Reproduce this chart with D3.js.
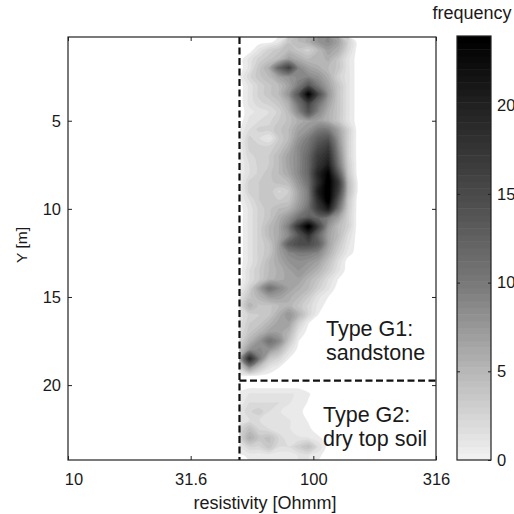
<!DOCTYPE html>
<html><head><meta charset="utf-8">
<script src="https://cdn.jsdelivr.net/npm/d3@7"></script>
<style>
body{margin:0;background:#fff}
text{font-family:"Liberation Sans",Arial,Helvetica,sans-serif;fill:#1a1a1a}
</style>
</head><body>
<svg id="chart" width="514" height="514"></svg>
<script>
// ---- data ----
// resistivity bin centres [Ohmm] (log-spaced)
const resistivityBins = [50.1, 55.0, 60.3, 66.1, 72.4, 79.4, 87.1, 95.5, 104.7, 114.8, 125.9, 138.0, 151.4, 166.0];
// depth bin centres Y [m]
const depthBins = [0.5,1,1.5,2,2.5,3,3.5,4,4.5,5,5.5,6,6.5,7,7.5,8,8.5,9,9.5,10,10.5,11,11.5,12,
                   12.5,13,13.5,14,14.5,15,15.5,16,16.5,17,17.5,18,18.5,19,19.5,20,20.5,21,21.5,22,22.5,23,23.5,24];
// frequency per (depth row, resistivity column)
const frequency = [
 [0,0,0,0,1,4,5,6,8,9,7,3,0,0],
 [0,0,1.5,3,4,5,4,3,5,7,6,2.5,0,0],
 [0,1.5,3,4,5,7,6,5,5,6,4,1.5,0,0],
 [0,1.5,4,6,12,16,9,7,6,5,4,1.5,0,0],
 [0.5,2.5,4,5,7,8,9,9,8,6,3,1.5,0,0],
 [0,1.5,3,4,5,7,10,14,10,7,4,1.5,0,0],
 [0,1.5,3,4,5,8,14,24,15,8,4,1.5,0,0],
 [0,1.5,2.5,3,4,6,11,16,11,7,4,1.5,0,0],
 [0,1,1.5,2,3,5,9,14,9,6,4,1.5,0,0],
 [0,1.5,2,2.5,3.5,4.5,6,7,7,6,4,1.5,0,0],
 [0.5,2,3,3,4,5,7,8,10,10,7,3,0,0],
 [0.5,3,2,1,3.5,5,8,10,13,14,8,3,0,0],
 [0.5,3,3,3,4,6,9,11,15,17,9,3,0,0],
 [0.5,2.5,3,3.5,5,7,9,12,17,19,10,3,0,0],
 [0.5,2,3,3.5,5,7,9,12,18,21,11,3.5,0,0],
 [0.5,2,3,4,5,6.5,9,12,20,24,14,4,0,0],
 [0.5,3,3.5,4,4.5,5,8,11,19,25,18,5,0.5,0],
 [0.5,3,3.5,4,2.5,3.5,7,10,21,25,17,5,0.5,0],
 [0.5,2,3.5,4,3.5,4,7,10,19,25,14,4,0,0],
 [0,1.5,3,4,5,5.5,8,11,17,21,11,3.5,0,0],
 [0,1.5,3,4,6,8,11,13,12,10,7,3,0,0],
 [0,1.5,3,5,6.5,10,18,25,16,8,5,3,0,0],
 [0,1.5,3,5,6.5,9,14,18,12,7,5,2,0,0],
 [0,1.5,3,4,7,13,15,15,13,7,4,1.5,0,0],
 [0,1.5,3,4,7,9,10,10,9,6,3,1,0,0],
 [0,1.5,3,5,6.5,8,8.5,8,7,4.5,2,0,0,0],
 [0,2,3.5,5,6,7,8,7,5.5,3.5,1.5,0,0,0],
 [0,2,3.5,5.5,6,7,7,5.5,4,2,0.5,0,0,0],
 [0.5,3,7,11,9,7,6,5,3,1.5,0,0,0,0],
 [1.5,4,5.5,7,7,6,5,3.5,1.5,0.5,0,0,0,0],
 [2,5.5,4,4,5,5.5,4,2.5,1,0,0,0,0,0],
 [1.5,3,3.5,4,6,8,5.5,2.5,0.5,0,0,0,0,0],
 [1.5,3.5,4,5.5,7,7,3,0.5,0,0,0,0,0,0],
 [2,4,5.5,7,7,5.5,1.5,0,0,0,0,0,0,0],
 [2.5,5.5,8,11,9,4,0.5,0,0,0,0,0,0,0],
 [4,8,9,8,5.5,2,0,0,0,0,0,0,0,0],
 [6,19,10,4,2.5,0.5,0,0,0,0,0,0,0,0],
 [3,8,4,1.5,0.5,0,0,0,0,0,0,0,0,0],
 [0,0,0,0,0,0,0,0,0,0,0,0,0,0],
 [0,0,0,0,0,0,0,0,0,0,0,0,0,0],
 [0.7,1.3,1.3,1.3,1.3,1.3,1.2,0.6,0,0,0,0,0,0],
 [0.7,2,2,2,2,1.3,1,0.4,0,0,0,0,0,0],
 [1.3,2.6,3.2,2,1.3,1,0.7,0.2,0,0,0,0,0,0],
 [1.3,2,2,1.3,1.3,1.3,1,0.4,0,0,0,0,0,0],
 [2.6,4.5,2.6,2,1.3,1.3,1,0.7,0,0,0,0,0,0],
 [2.6,6,4,4.5,2.6,1.3,1.3,1.3,0.7,0,0,0,0,0],
 [1.3,2.6,2.6,4,2,2,3.2,4.5,2,0,0,0,0,0],
 [0.3,0.7,0.7,0.7,0.7,0.7,1.3,1.3,0.7,0,0,0,0,0]
];
const xTickValues = [10, 31.62, 100, 316.2];
const xTickLabels = ["10", "31.6", "100", "316"];
const yTickValues = [5, 10, 15, 20];
const colorTickValues = [0, 5, 10, 15, 20];
const colorMax = 23.9;
const boundaryResistivity = 50;     // vertical dashed line
const boundaryDepth = 19.75;        // horizontal dashed line
const annotations = [
  {lines: ["Type G1:", "sandstone"], res: 112.6, y: 17.22},
  {lines: ["Type G2:", "dry top soil"], res: 109.5, y: 22.08}
];
const xTitle = "resistivity [Ohmm]";
const yTitle = "Y [m]";
const colorTitle = "frequency";

// ---- drawing ----
const svg = d3.select("#chart");
const L = 68, R = 436, T = 37, B = 460;
const x = d3.scaleLog().domain([10, 316.2]).range([L, R]);
const y = d3.scaleLinear().domain([0.25, 24.25]).range([T, B]);
const color = d3.scaleLinear()
  .domain([0, 5, 10, 15, 20, colorMax])
  .range(["#f0f0f0", "#b6b6b6", "#787878", "#4a4a4a", "#222222", "#000000"])
  .clamp(true);

// heat map as smoothed filled contours
const nx = resistivityBins.length, ny = depthBins.length;
const colIdx = d3.scaleLinear().domain([0, nx - 1])
  .range([Math.log10(resistivityBins[0]), Math.log10(resistivityBins[nx - 1])]);
const rowIdx = d3.scaleLinear().domain([0, ny - 1]).range([depthBins[0], depthBins[ny - 1]]);
const toPx = p => [x(Math.pow(10, colIdx(p[0] - 0.5))), y(rowIdx(p[1] - 0.5))];
const ringLine = d3.line().curve(d3.curveCatmullRomClosed.alpha(0.5));
const thresholds = d3.range(0.5, 25, 0.75);
const contours = d3.contours().size([nx, ny]).thresholds(thresholds)(frequency.flat());
const contourPath = c => c.coordinates.map(poly => poly.map(ring => ringLine(ring.slice(0, -1).map(toPx))).join("")).join("");

svg.append("clipPath").attr("id", "clip").append("rect")
  .attr("x", x(boundaryResistivity)).attr("y", T)
  .attr("width", R - x(boundaryResistivity)).attr("height", B - T);

svg.append("g").attr("clip-path", "url(#clip)")
  .selectAll("path").data(contours).join("path")
  .attr("d", contourPath)
  .attr("fill-rule", "evenodd")
  .attr("fill", d => color(d.value))
  .attr("stroke", d => color(d.value)).attr("stroke-width", 0.4);

// dashed lines
const dash = svg.append("g").attr("stroke", "#111").attr("stroke-width", 2.2).attr("stroke-dasharray", "7,3.5").attr("fill", "none");
dash.append("line").attr("x1", x(boundaryResistivity)).attr("x2", x(boundaryResistivity)).attr("y1", T).attr("y2", B);
dash.append("line").attr("x1", x(boundaryResistivity)).attr("x2", R).attr("y1", y(boundaryDepth)).attr("y2", y(boundaryDepth));

// frame
svg.append("rect").attr("x", L).attr("y", T).attr("width", R - L).attr("height", B - T)
  .attr("fill", "none").attr("stroke", "#222").attr("stroke-width", 1.2);

// axes (ticks inward on all sides)
const tk = 4;
const fs = 16.5;
const styleText = g => g.selectAll("text").attr("font-size", fs).attr("font-family", "Liberation Sans, Arial, sans-serif").attr("fill", "#1a1a1a");
svg.append("g").attr("transform", `translate(0,${B})`)
  .call(d3.axisBottom(x).tickValues(xTickValues).tickFormat((d, i) => xTickLabels[i]).tickSizeInner(-tk).tickSizeOuter(0).tickPadding(13))
  .call(g => { g.select(".domain").remove(); g.selectAll("line").attr("stroke", "#222"); styleText(g);
               g.selectAll("text").filter((d, i) => i === 0).attr("dx", 5.5); });
svg.append("g").attr("transform", `translate(0,${T})`)
  .call(d3.axisTop(x).tickValues(xTickValues).tickFormat("").tickSizeInner(-tk).tickSizeOuter(0))
  .call(g => { g.select(".domain").remove(); g.selectAll("line").attr("stroke", "#222"); });
svg.append("g").attr("transform", `translate(${L},0)`)
  .call(d3.axisLeft(y).tickValues(yTickValues).tickSizeInner(-tk).tickSizeOuter(0).tickPadding(7))
  .call(g => { g.select(".domain").remove(); g.selectAll("line").attr("stroke", "#222"); styleText(g); });
svg.append("g").attr("transform", `translate(${R},0)`)
  .call(d3.axisRight(y).tickValues(yTickValues).tickFormat("").tickSizeInner(-tk).tickSizeOuter(0))
  .call(g => { g.select(".domain").remove(); g.selectAll("line").attr("stroke", "#222"); });

// axis titles
svg.append("text").attr("x", 265).attr("y", 509).attr("text-anchor", "middle").attr("font-size", 18).text(xTitle);
svg.append("text").attr("transform", "translate(27,245) rotate(-90)").attr("text-anchor", "middle").attr("font-size", 15.5).text(yTitle);

// annotations
annotations.forEach(a => {
  const t = svg.append("text").attr("x", x(a.res)).attr("y", y(a.y)).attr("font-size", 21.5);
  a.lines.forEach((ln, i) => t.append("tspan").attr("x", x(a.res)).attr("dy", i ? 24 : 0).text(ln));
});

// colour bar
const CL = 457, CR = 491, CT = 36, CB = 460;
const cy = d3.scaleLinear().domain([0, colorMax]).range([CB, CT]);
const nBands = 64;
svg.append("g").selectAll("rect").data(d3.range(nBands)).join("rect")
  .attr("x", CL).attr("width", CR - CL)
  .attr("y", k => cy((k + 1) * colorMax / nBands))
  .attr("height", k => cy(k * colorMax / nBands) - cy((k + 1) * colorMax / nBands) + 0.5)
  .attr("fill", k => color(k / (nBands - 1) * colorMax));
svg.append("rect").attr("x", CL).attr("y", CT).attr("width", CR - CL).attr("height", CB - CT)
  .attr("fill", "none").attr("stroke", "#222").attr("stroke-width", 1.2);
svg.append("g").attr("transform", `translate(${CR},0)`)
  .call(d3.axisRight(cy).tickValues(colorTickValues).tickSizeInner(-3).tickSizeOuter(0).tickPadding(6))
  .call(g => { g.select(".domain").remove(); g.selectAll("line").attr("stroke", "#222"); styleText(g); });
svg.append("g").attr("transform", `translate(${CL},0)`)
  .call(d3.axisLeft(cy).tickValues(colorTickValues.filter(v => v > 0)).tickFormat("").tickSizeInner(-3).tickSizeOuter(0))
  .call(g => { g.select(".domain").remove(); g.selectAll("line").attr("stroke", "#222"); });
svg.append("text").attr("x", 472).attr("y", 19).attr("text-anchor", "middle").attr("font-size", 18).text(colorTitle);
</script>
</body></html>
